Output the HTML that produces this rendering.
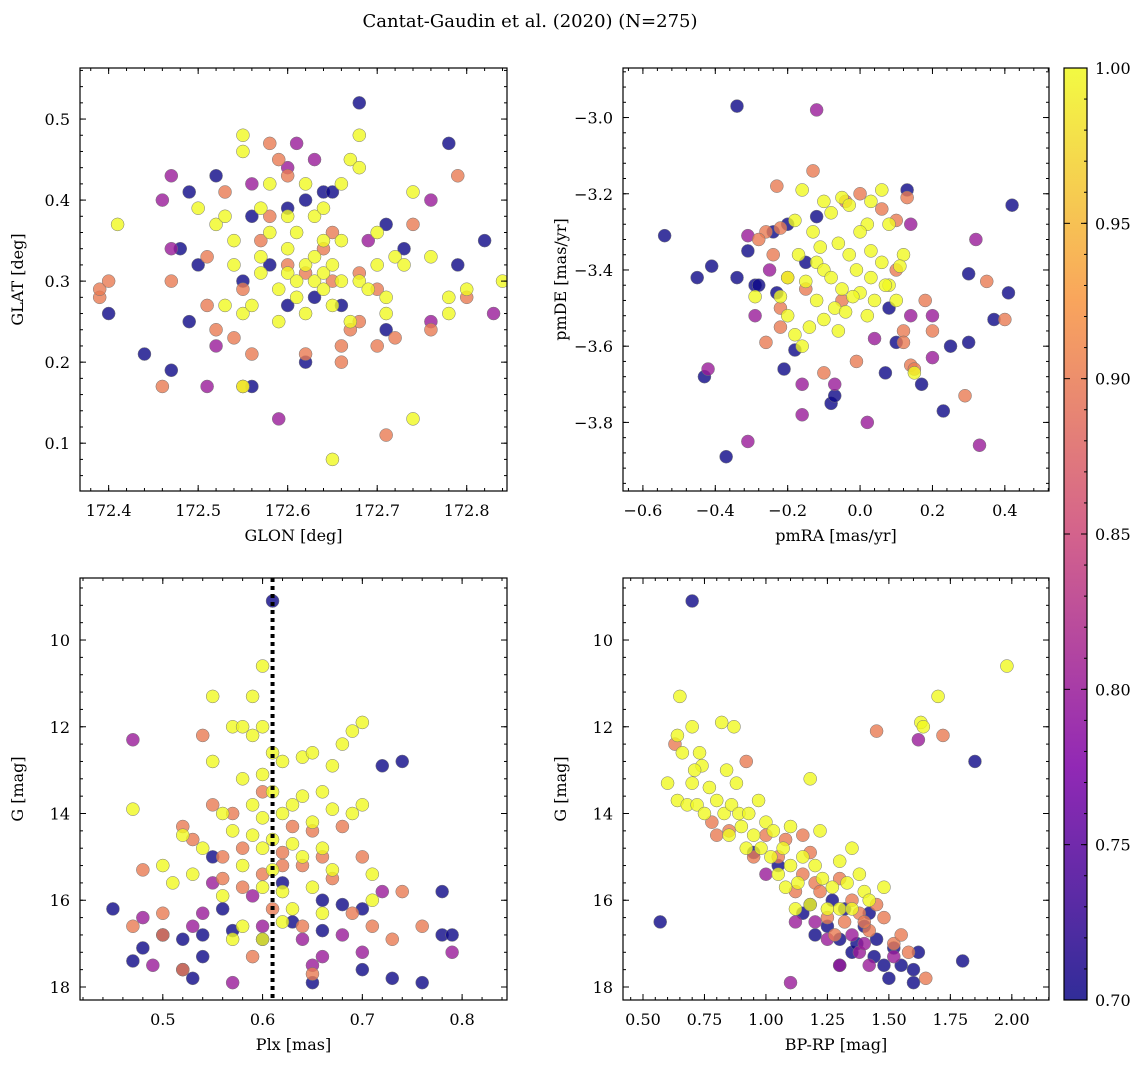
<!DOCTYPE html>
<html><head><meta charset="utf-8"><style>
body{margin:0;background:#fff}
svg{display:block;font-family:"DejaVu Serif","Liberation Serif",serif}
</style></head><body>
<svg id="fig" width="1148" height="1068" viewBox="0 0 1148 1068">
<defs>
<linearGradient id="plasma" x1="0" y1="1" x2="0" y2="0">
<stop offset="0" stop-color="#0d0887"/><stop offset="0.25" stop-color="#7e03a8"/><stop offset="0.5" stop-color="#cc4778"/><stop offset="0.75" stop-color="#f89540"/><stop offset="1" stop-color="#f0f921"/>
</linearGradient>
</defs>
<text x="530" y="27" text-anchor="middle" font-size="18">Cantat-Gaudin et al. (2020) (N=275)</text>
</svg>
<script>
// Panel 1: GLON vs GLAT
const p1x=[172.68,172.78,172.40,172.44,172.47,172.49,172.48,172.49,172.5,172.52,172.55,172.56,172.56,172.6,172.62,172.64,172.65,172.6,172.62,172.66,172.71,172.73,172.71,172.79,172.82,172.58,172.63,
172.46,172.47,172.47,172.51,172.52,172.59,172.61,172.63,172.56,172.76,172.76,172.83,172.69,172.6,
172.39,172.39,172.40,172.46,172.47,172.51,172.51,172.52,172.53,172.54,172.55,172.56,172.58,172.59,172.6,172.62,172.64,172.65,172.66,172.66,172.67,172.68,172.7,172.71,172.72,172.74,172.76,172.79,172.8,172.7,172.57,172.6,172.62,172.68,172.55,172.58,172.65,
172.41,172.52,172.53,172.55,172.55,172.54,172.54,172.55,172.55,172.56,172.57,172.57,172.58,172.59,172.59,172.6,172.6,172.61,172.61,172.61,172.62,172.62,172.62,172.63,172.63,172.63,172.64,172.64,172.64,172.65,172.65,172.65,172.66,172.66,172.67,172.67,172.68,172.68,172.68,172.69,172.7,172.7,172.71,172.72,172.73,172.74,172.74,172.76,172.78,172.78,172.8,172.84,172.5,172.58,172.66,172.71,172.64,172.57,172.6,172.53];
const p1y=[0.52,0.47,0.26,0.21,0.19,0.25,0.34,0.41,0.32,0.43,0.30,0.38,0.17,0.39,0.40,0.41,0.41,0.27,0.20,0.27,0.37,0.34,0.24,0.32,0.35,0.32,0.28,
0.40,0.43,0.34,0.17,0.22,0.13,0.47,0.45,0.42,0.40,0.25,0.26,0.35,0.44,
0.28,0.29,0.30,0.17,0.30,0.27,0.33,0.24,0.41,0.23,0.17,0.21,0.47,0.45,0.43,0.21,0.34,0.36,0.22,0.20,0.24,0.25,0.22,0.11,0.23,0.37,0.24,0.43,0.28,0.29,0.35,0.32,0.31,0.31,0.29,0.38,0.3,
0.37,0.37,0.38,0.48,0.46,0.32,0.35,0.26,0.17,0.27,0.39,0.33,0.36,0.29,0.25,0.31,0.34,0.30,0.28,0.36,0.26,0.32,0.42,0.30,0.33,0.38,0.29,0.31,0.39,0.32,0.27,0.08,0.30,0.35,0.25,0.45,0.48,0.44,0.30,0.29,0.36,0.32,0.28,0.33,0.32,0.13,0.41,0.33,0.28,0.26,0.29,0.30,0.39,0.42,0.42,0.26,0.35,0.31,0.38,0.27];
const p1c=[0.7,0.7,0.7,0.7,0.7,0.7,0.7,0.7,0.7,0.7,0.7,0.7,0.7,0.7,0.7,0.7,0.7,0.7,0.7,0.7,0.7,0.7,0.7,0.7,0.7,0.7,0.7,
0.8,0.8,0.8,0.8,0.8,0.8,0.8,0.8,0.8,0.8,0.8,0.8,0.8,0.8,
0.9,0.9,0.9,0.9,0.9,0.9,0.9,0.9,0.9,0.9,0.9,0.9,0.9,0.9,0.9,0.9,0.9,0.9,0.9,0.9,0.9,0.9,0.9,0.9,0.9,0.9,0.9,0.9,0.9,0.9,0.9,0.9,0.9,0.9,0.9,0.9,0.9,
1,1,1,1,1,1,1,1,1,1,1,1,1,1,1,1,1,1,1,1,1,1,1,1,1,1,1,1,1,1,1,1,1,1,1,1,1,1,1,1,1,1,1,1,1,1,1,1,1,1,1,1,1,1,1,1,1,1,1,1];
// Panel 2: pmRA vs pmDE
const p2x=[-0.34,-0.54,-0.45,-0.41,-0.34,-0.31,-0.29,-0.28,-0.24,-0.20,-0.23,-0.18,-0.21,-0.43,-0.37,-0.08,-0.07,0.13,0.1,0.17,0.23,0.25,0.3,0.3,0.37,0.41,0.42,0.07,-0.12,0.08,-0.15,
-0.12,-0.31,-0.29,-0.31,-0.42,-0.16,-0.16,-0.07,0.02,0.14,0.2,0.2,0.32,0.33,0.14,-0.25,0.04,
-0.23,-0.13,-0.26,-0.22,-0.24,-0.22,-0.26,-0.22,-0.2,-0.1,-0.01,0.1,0.13,0.18,0.14,0.15,0.2,0.29,0.4,-0.04,0.0,0.06,-0.15,0.1,0.12,-0.05,0.35,0.12,-0.28,
-0.16,-0.1,-0.05,-0.03,0.03,0.06,-0.18,-0.13,-0.08,0.02,0.08,0.12,-0.17,-0.12,-0.1,-0.06,-0.03,0.0,0.03,0.06,-0.2,-0.15,-0.08,-0.05,-0.01,0.03,0.08,-0.22,-0.12,-0.07,0.0,0.04,0.1,-0.2,-0.14,-0.1,-0.04,0.02,-0.18,-0.06,0.15,0.07,-0.29,-0.16,0.11,-0.02,-0.11];
const p2y=[-2.97,-3.31,-3.42,-3.39,-3.42,-3.35,-3.44,-3.44,-3.30,-3.28,-3.46,-3.61,-3.66,-3.68,-3.89,-3.75,-3.73,-3.19,-3.59,-3.70,-3.77,-3.60,-3.41,-3.59,-3.53,-3.46,-3.23,-3.67,-3.26,-3.50,-3.38,
-2.98,-3.31,-3.52,-3.85,-3.66,-3.70,-3.78,-3.70,-3.80,-3.52,-3.52,-3.63,-3.32,-3.86,-3.28,-3.40,-3.58,
-3.18,-3.14,-3.30,-3.29,-3.36,-3.50,-3.59,-3.55,-3.42,-3.67,-3.64,-3.27,-3.21,-3.48,-3.65,-3.66,-3.56,-3.73,-3.53,-3.22,-3.2,-3.24,-3.45,-3.4,-3.56,-3.48,-3.43,-3.59,-3.32,
-3.19,-3.22,-3.21,-3.23,-3.22,-3.19,-3.27,-3.3,-3.25,-3.28,-3.28,-3.36,-3.36,-3.38,-3.4,-3.33,-3.36,-3.3,-3.35,-3.38,-3.42,-3.43,-3.42,-3.45,-3.4,-3.42,-3.44,-3.47,-3.48,-3.5,-3.46,-3.48,-3.48,-3.52,-3.55,-3.53,-3.51,-3.52,-3.57,-3.56,-3.67,-3.44,-3.47,-3.6,-3.39,-3.47,-3.34];
const p2c=[0.7,0.7,0.7,0.7,0.7,0.7,0.7,0.7,0.7,0.7,0.7,0.7,0.7,0.7,0.7,0.7,0.7,0.7,0.7,0.7,0.7,0.7,0.7,0.7,0.7,0.7,0.7,0.7,0.7,0.7,0.7,
0.8,0.8,0.8,0.8,0.8,0.8,0.8,0.8,0.8,0.8,0.8,0.8,0.8,0.8,0.8,0.8,0.8,
0.9,0.9,0.9,0.9,0.9,0.9,0.9,0.9,0.9,0.9,0.9,0.9,0.9,0.9,0.9,0.9,0.9,0.9,0.9,0.9,0.9,0.9,0.9,0.9,0.9,0.9,0.9,0.9,0.9,
1,1,1,1,1,1,1,1,1,1,1,1,1,1,1,1,1,1,1,1,1,1,1,1,1,1,1,1,1,1,1,1,1,1,1,1,1,1,1,1,1,1,1,1,1,1,1];
// Panel 3: Plx vs G
const p3x=[0.61,0.45,0.47,0.48,0.5,0.52,0.52,0.53,0.54,0.54,0.55,0.56,0.57,0.6,0.62,0.63,0.65,0.66,0.68,0.7,0.72,0.74,0.73,0.76,0.78,0.78,0.79,0.7,0.66,
0.47,0.48,0.49,0.53,0.54,0.55,0.57,0.59,0.64,0.65,0.66,0.7,0.72,0.79,0.6,0.68,
0.48,0.47,0.5,0.5,0.52,0.52,0.53,0.54,0.55,0.56,0.56,0.57,0.58,0.59,0.6,0.61,0.62,0.63,0.64,0.64,0.65,0.66,0.67,0.68,0.69,0.7,0.71,0.73,0.76,0.74,0.6,0.58,0.65,0.62,
0.47,0.5,0.51,0.52,0.53,0.55,0.55,0.56,0.57,0.57,0.58,0.58,0.58,0.59,0.59,0.59,0.59,0.6,0.6,0.6,0.6,0.6,0.6,0.61,0.61,0.61,0.61,0.62,0.62,0.62,0.63,0.63,0.64,0.64,0.64,0.65,0.65,0.65,0.66,0.66,0.67,0.67,0.67,0.68,0.69,0.69,0.7,0.7,0.71,0.71,0.57,0.6,0.56,0.63,0.58,0.54,0.66,0.62];
const p3y=[9.1,16.2,17.4,17.1,16.8,16.9,17.6,17.8,17.3,16.8,15.0,16.2,16.7,16.9,15.6,16.5,17.9,16.7,16.1,17.6,12.9,12.8,17.8,17.9,15.8,16.8,16.8,16.2,16.0,
12.3,16.4,17.5,16.6,16.3,15.6,17.9,15.9,16.9,17.5,17.3,17.2,15.8,17.2,16.6,16.8,
15.3,16.6,16.8,16.3,14.3,17.6,14.6,12.2,13.8,15.0,15.5,14.0,14.8,17.3,15.4,16.2,14.9,14.3,15.2,16.6,14.4,15.0,15.5,14.3,16.3,15.0,16.6,16.9,16.6,15.8,13.5,15.7,17.7,15.2,
13.9,15.2,15.6,14.5,15.4,11.3,12.8,14.0,12.0,14.4,12.0,13.2,15.2,11.3,12.2,13.8,14.5,10.6,12.0,13.1,14.1,14.8,15.7,12.6,13.5,14.6,15.3,12.8,14.0,16.5,13.8,14.7,12.7,13.6,15.0,12.6,14.2,15.7,13.5,14.8,12.9,13.9,15.3,12.4,14.0,12.1,11.9,13.8,15.4,16.0,16.9,16.9,15.9,16.2,16.6,14.8,16.3,15.8];
const p3c=[0.7,0.7,0.7,0.7,0.7,0.7,0.7,0.7,0.7,0.7,0.7,0.7,0.7,0.7,0.7,0.7,0.7,0.7,0.7,0.7,0.7,0.7,0.7,0.7,0.7,0.7,0.7,0.7,0.7,
0.8,0.8,0.8,0.8,0.8,0.8,0.8,0.8,0.8,0.8,0.8,0.8,0.8,0.8,0.8,0.8,
0.9,0.9,0.9,0.9,0.9,0.9,0.9,0.9,0.9,0.9,0.9,0.9,0.9,0.9,0.9,0.9,0.9,0.9,0.9,0.9,0.9,0.9,0.9,0.9,0.9,0.9,0.9,0.9,0.9,0.9,0.9,0.9,0.9,0.9,
1,1,1,1,1,1,1,1,1,1,1,1,1,1,1,1,1,1,1,1,1,1,1,1,1,1,1,1,1,1,1,1,1,1,1,1,1,1,1,1,1,1,1,1,1,1,1,1,1,1,1,1,1,1,1,1,1,1];
const plxMedian=[0.61];
// Panel 4: BP-RP vs G
const p4x=[0.7,0.57,1.85,1.8,1.6,1.55,1.62,1.6,1.5,1.48,1.45,1.4,1.35,1.3,1.25,1.2,1.15,1.32,1.27,1.37,1.52,1.44,1.42,1.3,0.95,1.05,1.18,
1.62,1.1,1.3,1.35,1.38,1.4,1.25,1.42,1.2,1.12,1.0,1.52,
1.45,1.72,0.63,0.92,0.78,0.8,0.85,0.95,1.0,1.05,1.08,1.15,1.2,1.25,1.3,1.35,1.38,1.42,1.45,1.48,1.52,1.55,1.58,1.65,1.12,1.22,1.32,1.15,1.28,1.4,1.18,
1.98,0.65,1.7,1.63,1.64,0.7,0.82,0.87,0.64,0.66,0.73,0.74,0.71,0.77,0.84,0.88,0.7,0.6,0.64,0.68,0.72,0.75,0.8,0.83,0.86,0.89,0.93,0.97,0.9,0.95,1.0,1.03,1.07,1.1,1.18,1.22,0.92,0.98,1.02,1.05,1.1,1.13,1.15,1.2,1.23,1.27,1.3,1.33,1.35,1.38,1.4,1.48,1.18,1.25,1.3,1.12,1.08,1.35,1.42,0.85];
const p4y=[9.1,16.5,12.8,17.4,17.9,17.5,17.2,17.6,17.8,17.5,16.9,16.6,17.2,16.9,16.6,16.8,16.3,16.2,16.0,17.0,17.1,17.3,16.3,17.5,14.9,15.2,16.1,
12.3,17.9,17.5,16.8,17.2,17.0,16.9,17.5,16.5,16.5,15.4,17.3,
12.1,12.2,12.4,12.8,14.2,14.5,14.4,15.0,14.5,15.0,14.6,15.4,15.6,16.4,15.5,16.0,16.3,16.7,16.1,16.4,17.0,16.8,17.2,17.8,15.8,15.8,16.5,14.5,16.8,16.5,14.9,
10.6,11.3,11.3,11.9,12.0,12.0,11.9,12.0,12.2,12.6,12.6,12.9,13.0,13.4,13.0,13.3,13.3,13.3,13.7,13.8,13.8,14.0,13.7,14.0,13.8,14.0,14.0,13.7,14.3,14.5,14.2,14.4,14.8,14.3,13.2,14.4,14.8,14.8,15.0,15.4,15.2,15.6,15.0,15.2,15.5,15.7,15.1,15.6,14.8,15.4,15.8,15.7,16.1,16.2,16.2,16.2,15.7,16.2,16.0,14.5];
const p4c=[0.7,0.7,0.7,0.7,0.7,0.7,0.7,0.7,0.7,0.7,0.7,0.7,0.7,0.7,0.7,0.7,0.7,0.7,0.7,0.7,0.7,0.7,0.7,0.7,0.7,0.7,0.7,
0.8,0.8,0.8,0.8,0.8,0.8,0.8,0.8,0.8,0.8,0.8,0.8,
0.9,0.9,0.9,0.9,0.9,0.9,0.9,0.9,0.9,0.9,0.9,0.9,0.9,0.9,0.9,0.9,0.9,0.9,0.9,0.9,0.9,0.9,0.9,0.9,0.9,0.9,0.9,0.9,0.9,0.9,0.9,
1,1,1,1,1,1,1,1,1,1,1,1,1,1,1,1,1,1,1,1,1,1,1,1,1,1,1,1,1,1,1,1,1,1,1,1,1,1,1,1,1,1,1,1,1,1,1,1,1,1,1,1,1,1,1,1,1,1,1,1];
const t1x=[172.4,172.5,172.6,172.7,172.8], t1y=[0.1,0.2,0.3,0.4,0.5];
const t2x=[-0.6,-0.4,-0.2,0.0,0.2,0.4], t2y=[-3.8,-3.6,-3.4,-3.2,-3.0];
const t3x=[0.5,0.6,0.7,0.8], tGy=[10,12,14,16,18];
const t4x=[0.5,0.75,1.0,1.25,1.5,1.75,2.0];
const cbTicks=[0.70,0.75,0.80,0.85,0.90,0.95,1.00];

const NS='http://www.w3.org/2000/svg';
const svg=document.getElementById('fig');
function mk(tag,attrs,parent){const e=document.createElementNS(NS,tag);for(const k in attrs)e.setAttribute(k,attrs[k]);(parent||svg).appendChild(e);return e;}
const stops=[[13,8,135],[126,3,168],[204,71,120],[248,149,64],[240,249,33]];
function plasma(v){let t=(v-0.7)/0.3;t=Math.max(0,Math.min(1,t))*4;const i=Math.min(3,Math.floor(t)),f=t-i;const a=stops[i],b=stops[i+1];return 'rgb('+a.map((c,j)=>Math.round(c+(b[j]-c)*f)).join(',')+')';}
function fmt(v,d){return (v<0?'\u2212':'')+Math.abs(v).toFixed(d);}
function panel(name,L,T,R,B,xd,yd,xs,ys,xt,yt,xdec,ydec,xlab,ylab,minorX,minorY){
  const g=mk('g',{});
  
  
  const X=v=>L+(v-xd[0])/(xd[1]-xd[0])*(R-L);
  const Y=v=>T+(v-yd[0])/(yd[1]-yd[0])*(B-T);
  const clip='clip-'+name;
  const cp=mk('clipPath',{id:clip},g);mk('rect',{x:L,y:T,width:R-L,height:B-T},cp);
  const pts=mk('g',{'clip-path':'url(#'+clip+')'},g);
  for(let i=0;i<xs.length;i++){
    const c=mk('circle',{cx:X(xs[i]),cy:Y(ys[i]),r:6.5,fill:plasma(ys.c?ys.c[i]:0),'fill-opacity':0.8,stroke:'#777','stroke-width':0.5},pts);
    
    
  }
  mk('rect',{x:L,y:T,width:R-L,height:B-T,fill:'none',stroke:'#000','stroke-width':1.2},g);
  xt.forEach(v=>{const x=X(v);mk('line',{x1:x,x2:x,y1:B,y2:B-6,stroke:'#000'},g);mk('line',{x1:x,x2:x,y1:T,y2:T+6,stroke:'#000'},g);
    const t=mk('text',{x:x,y:B+25,'text-anchor':'middle','font-size':16},g);t.textContent=fmt(v,xdec);
    });
  yt.forEach(v=>{const y=Y(v);mk('line',{x1:L,x2:L+6,y1:y,y2:y,stroke:'#000'},g);mk('line',{x1:R,x2:R-6,y1:y,y2:y,stroke:'#000'},g);
    const t=mk('text',{x:L-10,y:y+6,'text-anchor':'end','font-size':16},g);t.textContent=fmt(v,ydec);
    });
  for(let v=Math.ceil(xd[0]/minorX)*minorX;v<=xd[1];v+=minorX){const x=X(v);mk('line',{x1:x,x2:x,y1:B,y2:B-3,stroke:'#000'},g);mk('line',{x1:x,x2:x,y1:T,y2:T+3,stroke:'#000'},g);}
  const lo=Math.min(yd[0],yd[1]),hi=Math.max(yd[0],yd[1]);
  for(let v=Math.ceil(lo/minorY)*minorY;v<=hi;v+=minorY){const y=Y(v);mk('line',{x1:L,x2:L+3,y1:y,y2:y,stroke:'#000'},g);mk('line',{x1:R,x2:R-3,y1:y,y2:y,stroke:'#000'},g);}
  const xl=mk('text',{x:(L+R)/2,y:B+50,'text-anchor':'middle','font-size':16},g);xl.textContent=xlab;
  
  const yl=mk('text',{x:0,y:0,'text-anchor':'middle','font-size':16,transform:'translate('+(L-57)+','+((T+B)/2)+') rotate(-90)'},g);yl.textContent=ylab;
  
  return {X,Y,g};
}
function withC(arr,c){arr.c=c;return arr;}
panel('panel-glon-glat',80,68,507,491,[172.368,172.845],[0.563,0.041],p1x,withC(p1y.slice(),p1c),t1x,t1y,1,1,'GLON [deg]','GLAT [deg]',0.02,0.02);
panel('panel-pm',623,68,1049,491,[-0.655,0.522],[-2.87,-3.98],p2x,withC(p2y.slice(),p2c),t2x,t2y,1,1,'pmRA [mas/yr]','pmDE [mas/yr]',0.04,0.04);
const p3=panel('panel-plx-g',80,578,507,1000,[0.417,0.845],[8.57,18.3],p3x,withC(p3y.slice(),p3c),t3x,tGy,1,0,'Plx [mas]','G [mag]',0.02,0.4);
plxMedian.forEach(v=>{const l=mk('line',{x1:p3.X(v),x2:p3.X(v),y1:578,y2:1000,stroke:'#000','stroke-width':4,'stroke-dasharray':'4,4'},p3.g);
  });
panel('panel-color-mag',623,578,1049,1000,[0.4187,2.1512],[8.57,18.3],p4x,withC(p4y.slice(),p4c),t4x,tGy,2,0,'BP-RP [mag]','G [mag]',0.05,0.4);
// colorbar
const cb=mk('g',{});


mk('rect',{x:1064,y:68,width:23,height:932,fill:'url(#plasma)','fill-opacity':0.85,stroke:'#000','stroke-width':1.2},cb);
cbTicks.forEach(v=>{const y=1000-(v-0.7)/0.3*932;mk('line',{x1:1087,x2:1081,y1:y,y2:y,stroke:'#000'},cb);mk('line',{x1:1064,x2:1070,y1:y,y2:y,stroke:'#000'},cb);
  const t=mk('text',{x:1095,y:y+6,'font-size':16},cb);t.textContent=v.toFixed(2);
  });
for(let v=0.71;v<1.0;v+=0.01){const y=1000-(v-0.7)/0.3*932;mk('line',{x1:1087,x2:1084,y1:y,y2:y,stroke:'#000'},cb);}
</script>
</body></html>
